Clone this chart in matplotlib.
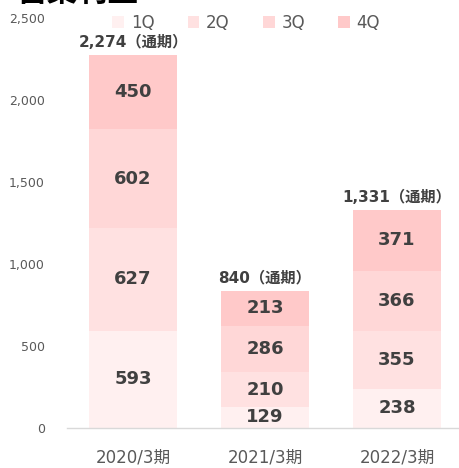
import matplotlib.pyplot as plt
import numpy as np

plt.rcParams['font.family'] = ['DejaVu Sans', 'Noto Sans CJK JP']

periods = ['2020/3期', '2021/3期', '2022/3期']
quarters = ['1Q', '2Q', '3Q', '4Q']
q1 = [593, 129, 238]
q2 = [627, 210, 355]
q3 = [602, 286, 366]
q4 = [450, 213, 371]
totals = [2274, 840, 1331]
colors = ['#FFF0F0', '#FFE1E1', '#FFD7D7', '#FFC9C9']

fig = plt.figure(figsize=(4.6, 4.68), dpi=100)
ax = fig.add_axes([67 / 460, 40 / 468, 393 / 460, 410 / 468])

x = np.arange(len(periods))
series = [q1, q2, q3, q4]
bottom = np.zeros(len(periods))
for name, vals, c in zip(quarters, series, colors):
    ax.bar(x, vals, 0.667, bottom=bottom, color=c, label=name)
    for xi, b, v in zip(x, bottom, vals):
        ax.text(xi, b + v / 2, str(v), ha='center', va='center',
                fontsize=13, fontweight='bold', color='#404040')
    bottom += vals

for xi, t in zip(x, totals):
    ax.text(xi, t + 30, f'{t:,}（通期）', ha='center', va='bottom',
            fontsize=11, fontweight='bold', color='#404040')

ax.set_xlim(-0.5, 2.477)
ax.set_ylim(0, 2500)
ax.set_yticks(range(0, 2501, 500))
ax.set_yticklabels([f'{v:,}' for v in range(0, 2501, 500)])
ax.set_xticks(x)
ax.set_xticklabels(periods)
ax.tick_params(axis='y', length=0, labelsize=9, labelcolor='#595959', pad=16)
ax.tick_params(axis='x', length=0, labelsize=12, labelcolor='#595959', pad=15)
for s in ['top', 'right', 'left']:
    ax.spines[s].set_visible(False)
ax.spines['bottom'].set_color('#D9D9D9')
ax.spines['bottom'].set_linewidth(1)

leg = ax.legend(loc='center', bbox_to_anchor=(0.456, 0.988), ncol=4, frameon=False,
                fontsize=12, handlelength=0.7, handleheight=0.7, handletextpad=0.4,
                columnspacing=2.0)
for t in leg.get_texts():
    t.set_color('#595959')

# 見出し（上端で切れている）
fig.text(0.037, 1.017, '営業利益', fontsize=22, fontweight='bold', color='black',
         ha='left', va='center')

fig.savefig('out.png', dpi=100)
